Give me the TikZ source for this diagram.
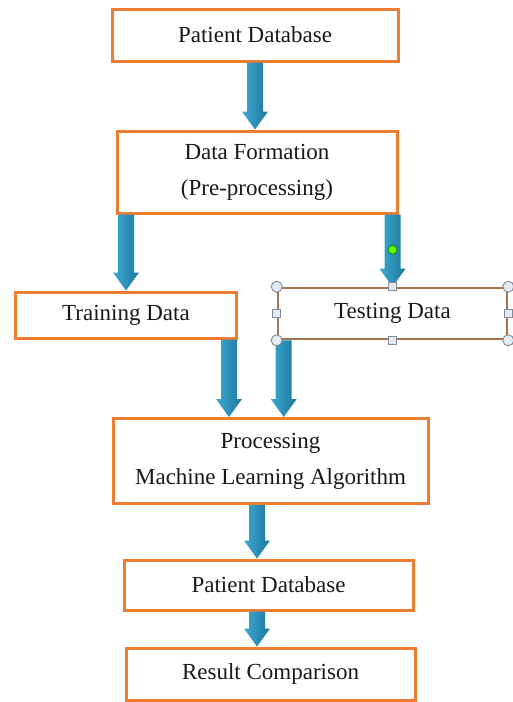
\documentclass[tikz,border=0pt]{standalone}
\usepackage{fontspec}
\setmainfont{Liberation Serif}
\usetikzlibrary{calc}
\definecolor{boxorange}{RGB}{237,125,49}
\definecolor{selbrown}{RGB}{165,118,78}
\definecolor{arrlight}{RGB}{62,170,208}
\definecolor{arrdark}{RGB}{28,118,158}
\definecolor{handlefill}{RGB}{226,234,244}
\definecolor{handleline}{RGB}{130,140,150}
\newcommand{\blockarr}[2]{%
  \shade[left color=arrlight,right color=arrdark] let \p1=#1, \p2=#2 in
  ({\x1-8pt},\y1)--({\x1+8pt},\y1)--({\x1+8pt},{\y2+18pt})--({\x1+13pt},{\y2+18pt})
  --(\x1,\y2)--({\x1-13pt},{\y2+18pt})--({\x1-8pt},{\y2+18pt})--cycle;}

\begin{document}
\begin{tikzpicture}[x=1pt,y=-1pt,
  flowbox/.style={draw=boxorange,line width=3pt,fill=white,text=black!90,
    align=center,inner sep=0pt,font=\fontsize{23}{36}\selectfont},
  handle/.style={draw=handleline,fill=handlefill,line width=.9pt}]
\useasboundingbox (0,0) rectangle (513,702);
\node[flowbox,minimum width=286,minimum height=52] (db1) at (255,35) {Patient Database};
\node[flowbox,minimum width=280,minimum height=82] (form) at (257,172) {Data Formation\\(Pre-processing)};
\node[flowbox,minimum width=221,minimum height=46] (train) at (126,315) {Training Data};
\node[flowbox,draw=selbrown,line width=2.6pt,minimum width=229,minimum height=51] (test) at (392.5,313.5) {Testing Data};
\node[flowbox,minimum width=315,minimum height=85] (proc) at (270.5,461) {Processing\\Machine Learning Algorithm};
\node[flowbox,minimum width=289,minimum height=50] (db2) at (268.5,585) {Patient Database};
\node[flowbox,minimum width=289,minimum height=52] (res) at (270.5,674) {Result Comparison};

\coordinate (trainout) at ($(train.south east)+(-9,0)$);
\coordinate (testout) at ($(test.south west)+(7,0)$);
\coordinate (spine) at (257,0);
\blockarr{(db1.south)}{(form.north)}
\blockarr{(form.south -| train.north)}{(train.north)}
\blockarr{(form.south -| test.north)}{(test.north)}
\blockarr{(trainout)}{(trainout |- proc.north)}
\blockarr{(testout)}{(testout |- proc.north)}
\blockarr{(proc.south -| spine)}{(db2.north -| spine)}
\blockarr{(db2.south -| spine)}{(res.north -| spine)}

% selection handles
\foreach \a in {north west,north east,south west,south east}
  \draw[handle] (test.\a) circle (5.5);
\foreach \a in {north,south,west,east}
  \draw[handle] ($(test.\a)+(-4,-4)$) rectangle ++(8,8);
\coordinate (rot) at ($(test.north)+(0,-37)$);
\draw[draw=green!45!black,fill=green!60!yellow,line width=.6pt] (rot) circle (4.5);
\end{tikzpicture}
\end{document}
